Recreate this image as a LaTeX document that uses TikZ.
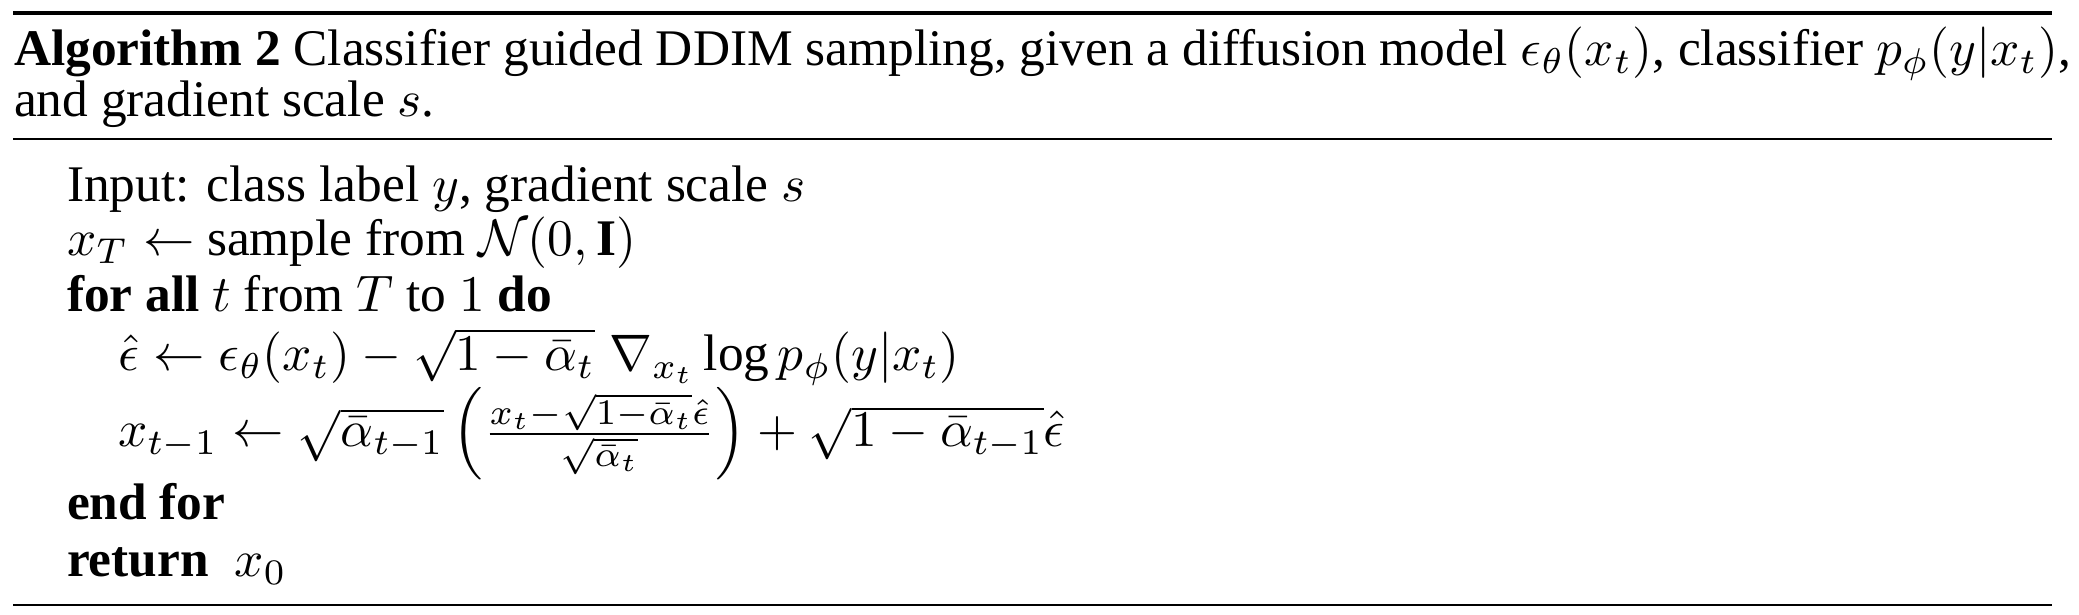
\documentclass[tikz,border=0pt]{standalone}
\usepackage{fontspec}
\setmainfont{Liberation Serif}
\usepackage{amsmath}
\usetikzlibrary{positioning}
\tikzset{algline/.style={anchor=base west, inner sep=0pt}}

\begin{document}
\begin{tikzpicture}[x=0.1947pt, y=-0.1947pt]

			\useasboundingbox (0,0) rectangle (2079,615);

			% rules of the float
			\draw[line width=0.8pt] (13,13) -- (2052,13);
			\draw[line width=0.4pt] (13,139) -- (2052,139);
			\draw[line width=0.4pt] (13,605) -- (2052,605);

			\node[algline] (cap1) at (13,66) {\textbf{Algorithm 2} Classifier guided DDIM sampling, given a diffusion model $\epsilon_\theta(x_t)$, classifier $p_\phi(y|x_t)$,};
			\node[algline] (cap2) at (13,117) {and gradient scale $s$.};

			\node[algline] (input) at (66,202) {Input: class label $y$, gradient scale $s$};
			\node[algline] (init) at (66,256) {$x_T \leftarrow$ sample from $\mathcal{N}(0,\mathbf{I})$};
			\node[algline] (loop) at (66,312) {\textbf{for all} $t$ from $T$ to $1$ \textbf{do}};
			\node[algline] (epshat) at (117,371) {$\hat\epsilon \leftarrow \epsilon_\theta(x_t) - \sqrt{1-\bar\alpha_t}\;\nabla_{x_t}\log p_\phi(y|x_t)$};
			\node[algline] (update) at (117,447) {$x_{t-1} \leftarrow \sqrt{\bar\alpha_{t-1}}\left(\frac{x_t-\sqrt{1-\bar\alpha_t}\hat\epsilon}{\sqrt{\bar\alpha_t}}\right)+\sqrt{1-\bar\alpha_{t-1}}\hat\epsilon$};
			\node[algline] (endloop) at (66,520) {\textbf{end for}};
			\node[algline] (ret) at (66,577) {\textbf{return} \ $x_0$};

\end{tikzpicture}
\end{document}
